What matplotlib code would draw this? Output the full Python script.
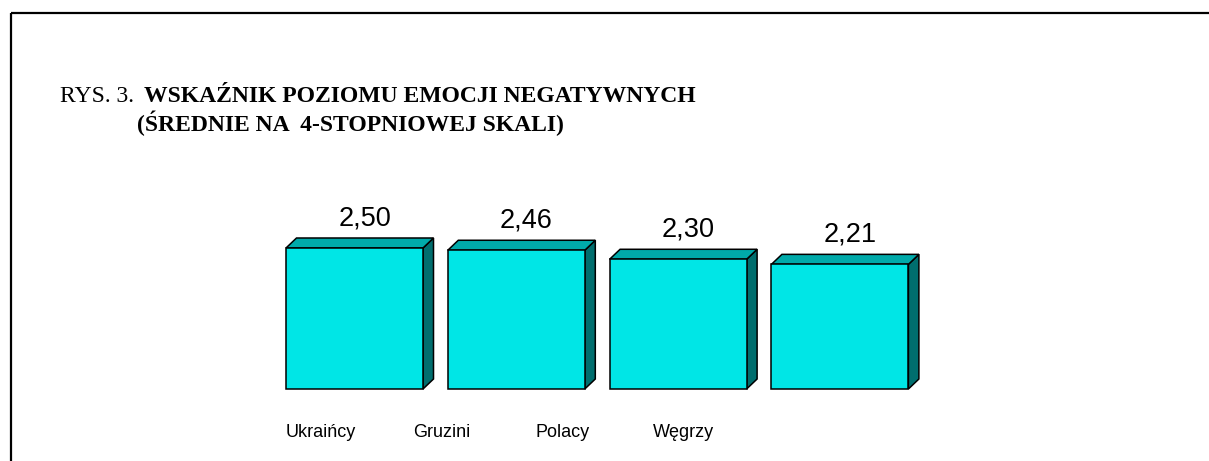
import matplotlib
matplotlib.use("Agg")
import matplotlib.pyplot as plt
from matplotlib.patches import Polygon
from matplotlib.lines import Line2D

categories = ["Ukraińcy", "Gruzini", "Polacy", "Węgrzy"]
values = [2.50, 2.46, 2.30, 2.21]
value_labels = ["2,50", "2,46", "2,30", "2,21"]
title_prefix = "RYS. 3. "
title_line1 = "WSKAŹNIK POZIOMU EMOCJI NEGATYWNYCH"
title_line2 = "(ŚREDNIE NA  4-STOPNIOWEJ SKALI)"

W, H, DPI = 1209, 461, 100
fig = plt.figure(figsize=(W / DPI, H / DPI), dpi=DPI)

front_col = "#00E6E6"
top_col = "#00AAAA"
side_col = "#006E6E"

# axes placement (pixels from top-left)
spacing_px = 161.8
x0_px = 354.5
ppu = 56.4          # pixels per unit on y
base_px = 389       # baseline (y=0) from top
left_px = x0_px - 0.5 * spacing_px
ax_w_px = 4 * spacing_px
ymax = 3.0
ax = fig.add_axes([left_px / W, (H - base_px) / H, ax_w_px / W, ymax * ppu / H])
ax.set_xlim(-0.5, 3.5)
ax.set_ylim(0, ymax)
ax.axis("off")

bw = 137 / spacing_px
ddx = 10.5 / spacing_px
ddy = 10.0 / ppu
ec = "#000000"
lw = 1.1

for i, v in enumerate(values):
    xl, xr = i - bw / 2, i + bw / 2
    side = Polygon([(xr, 0), (xr + ddx, ddy), (xr + ddx, v + ddy), (xr, v)],
                   closed=True, facecolor=side_col, edgecolor=ec, lw=lw,
                   zorder=2, clip_on=False)
    top = Polygon([(xl, v), (xr, v), (xr + ddx, v + ddy), (xl + ddx, v + ddy)],
                  closed=True, facecolor=top_col, edgecolor=ec, lw=lw,
                  zorder=2, clip_on=False)
    ax.add_patch(side)
    ax.add_patch(top)
bars = ax.bar(range(len(values)), values, width=bw, color=front_col,
              edgecolor=ec, linewidth=lw, zorder=3)
for b in bars:
    b.set_clip_on(False)

for i, (v, lab) in enumerate(zip(values, value_labels)):
    ax.annotate(lab, xy=(i, v), xytext=(10 * 0.72, 23 * 0.72),
                textcoords="offset points", ha="center", va="baseline",
                fontsize=19.5, family="Liberation Sans", color="black",
                clip_on=False)

# category labels
for i, c in enumerate(categories):
    xpx = 320.5 + 121 * i
    fig.text(xpx / W, (H - 437) / H, c, ha="center", va="baseline",
             fontsize=13, family="Liberation Sans", color="black")

# title
fig.text(60 / W, (H - 102) / H, title_prefix, ha="left", va="baseline",
         fontsize=17, family="Liberation Serif", color="black")
fig.text(144 / W, (H - 102) / H, title_line1, ha="left", va="baseline",
         fontsize=17, family="Liberation Serif", weight="bold", color="black")
fig.text(137 / W, (H - 131) / H, title_line2, ha="left", va="baseline",
         fontsize=17, family="Liberation Serif", weight="bold", color="black")

# frame
fig.add_artist(Line2D([10.5 / W, 1.0], [(H - 13.5) / H] * 2, color="black",
                      lw=1.6, transform=fig.transFigure, solid_capstyle="butt"))
fig.add_artist(Line2D([10.5 / W] * 2, [(H - 12.7) / H, 0.0], color="black",
                      lw=1.6, transform=fig.transFigure, solid_capstyle="butt"))

fig.savefig("out.png", dpi=DPI)
